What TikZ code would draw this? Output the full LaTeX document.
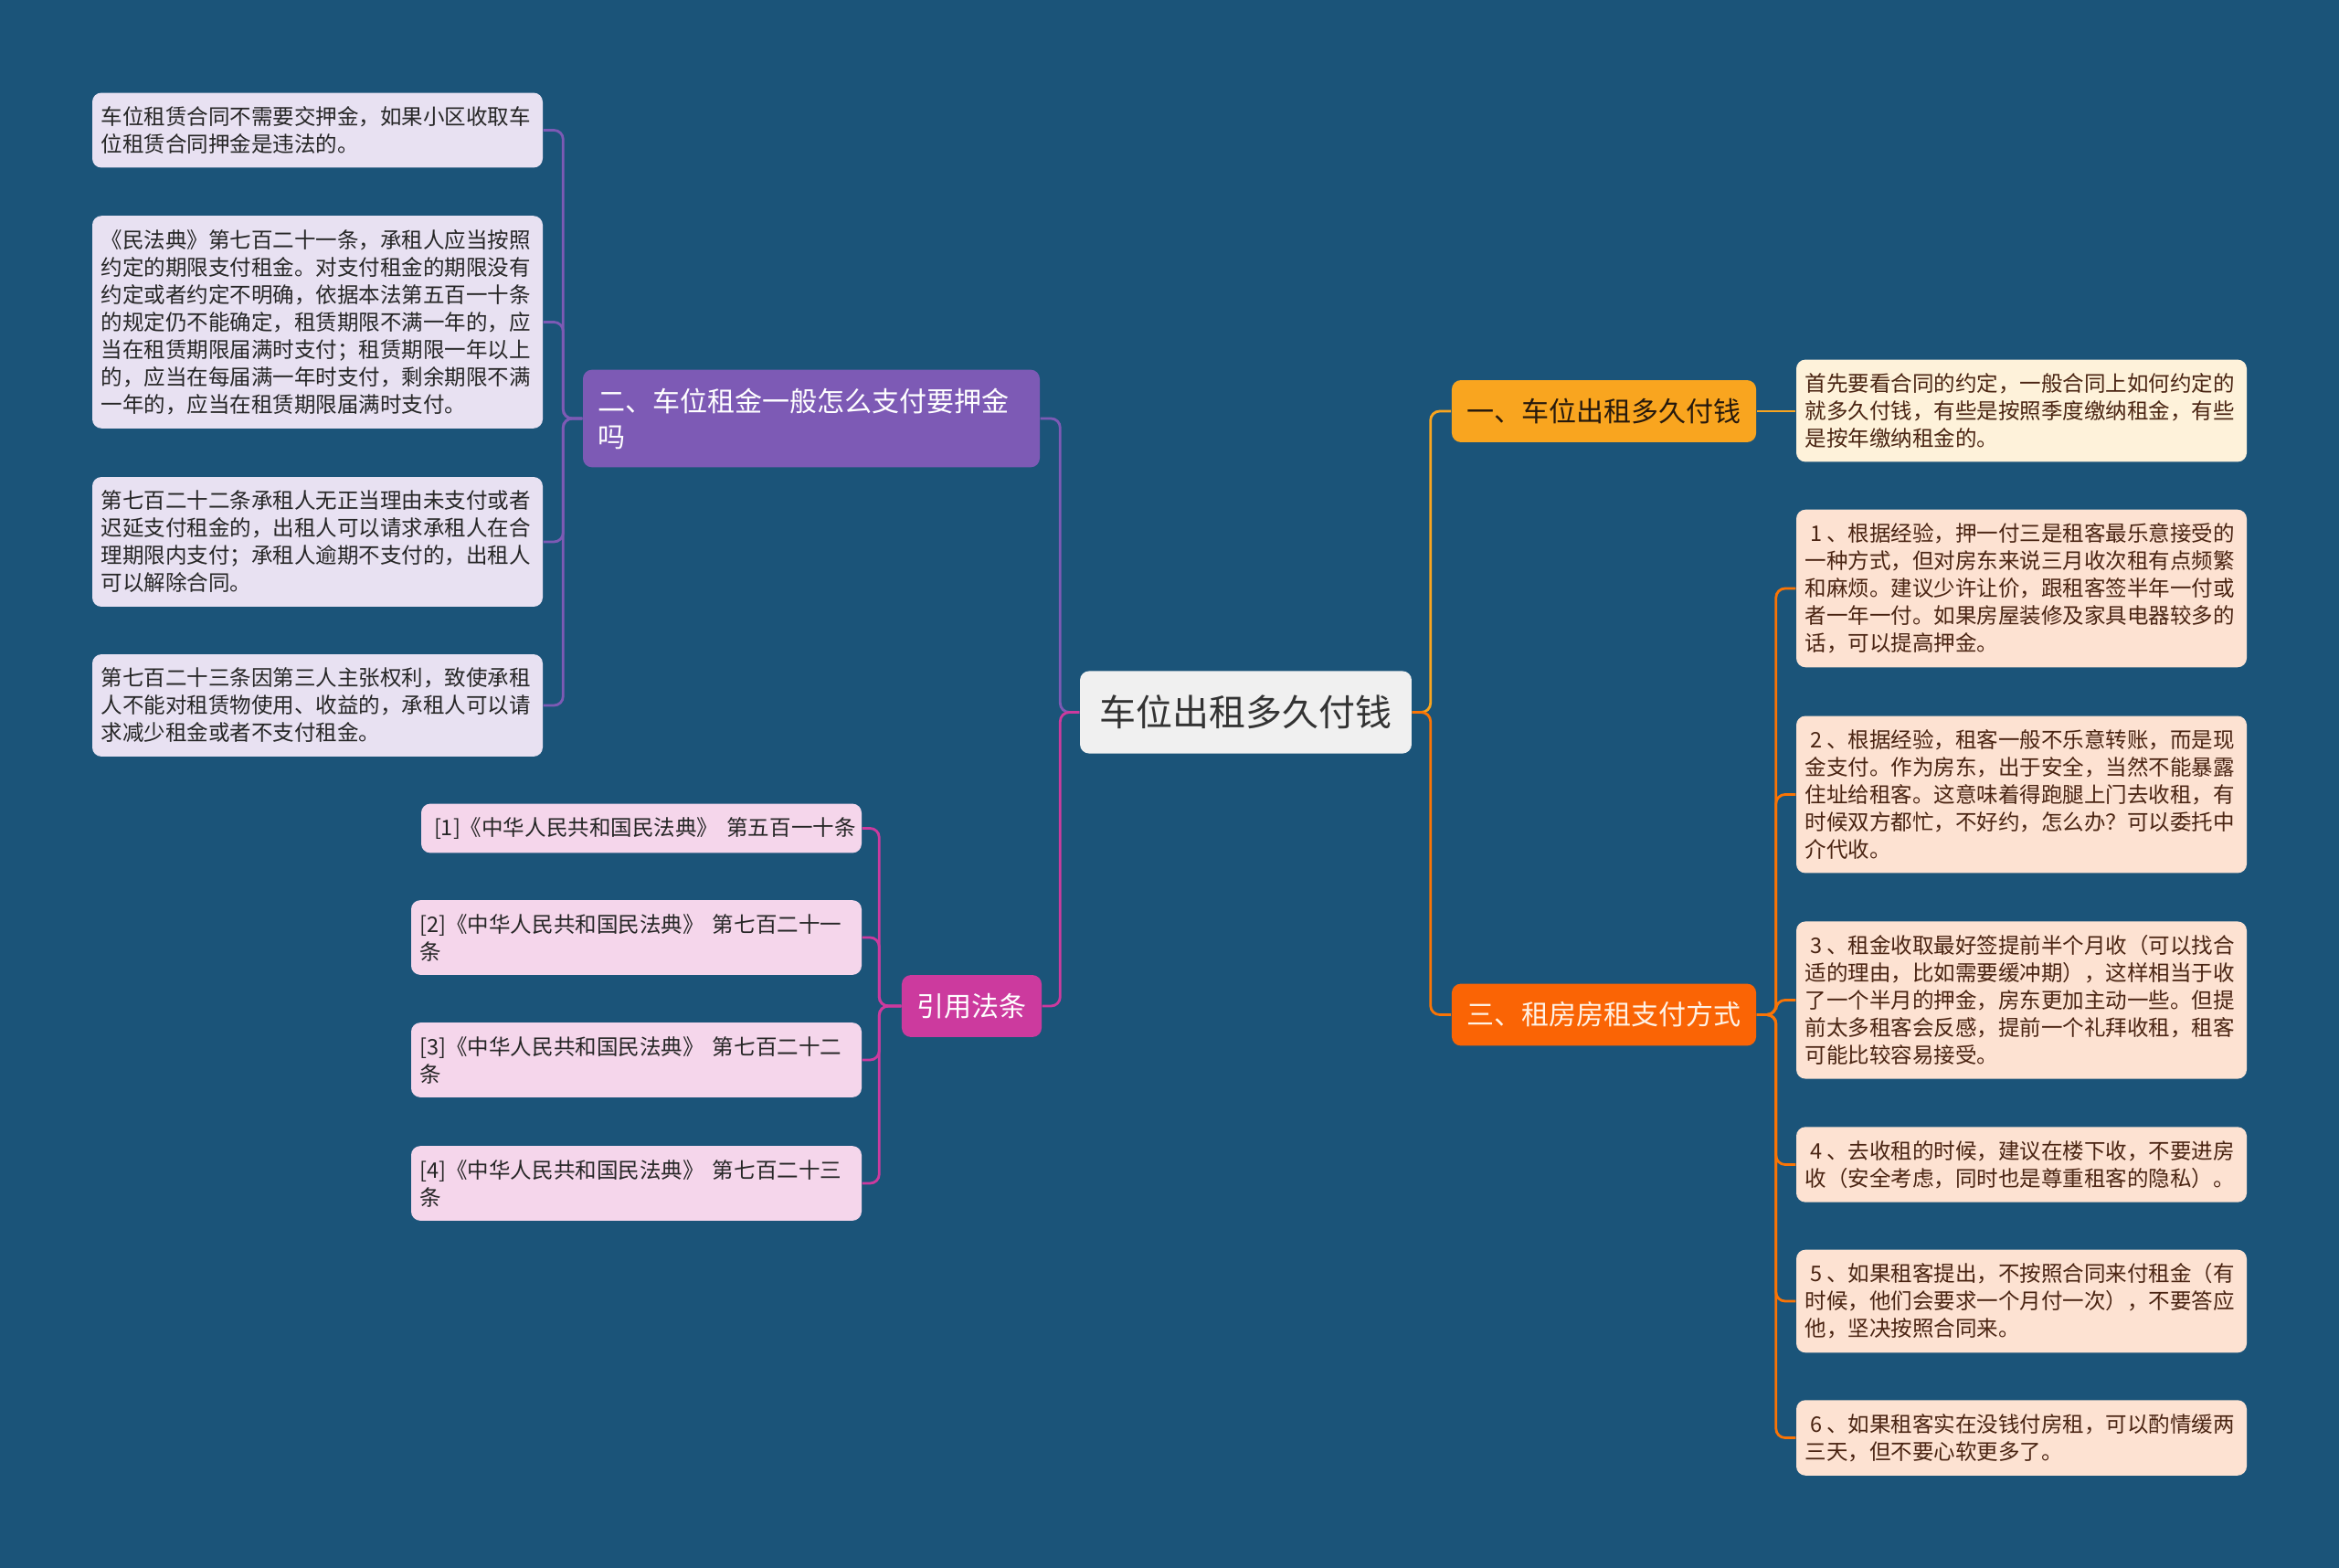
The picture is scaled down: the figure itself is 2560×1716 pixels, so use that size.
\documentclass[tikz,border=0pt]{standalone}
\usepackage{fontspec}
\setmainfont{Noto Sans CJK SC}
\definecolor{bgblue}{HTML}{1B5479}
\definecolor{rootfill}{HTML}{F0F0F0}
\definecolor{yellowfill}{HTML}{F9A51F}
\definecolor{yellowleaf}{HTML}{FEF2DA}
\definecolor{orangefill}{HTML}{FA6405}
\definecolor{orangeleaf}{HTML}{FDE2D2}
\definecolor{purplefill}{HTML}{7D5AB5}
\definecolor{purpleleaf}{HTML}{E8E1F2}
\definecolor{pinkfill}{HTML}{CC3A9E}
\definecolor{pinkleaf}{HTML}{F5D6EB}
\definecolor{browntext}{HTML}{4A2412}
\newcommand\lnum[1]{\hspace*{.25em}#1\hspace*{.2em}}
\newcommand\gap{\nobreak\hspace{.4em}\nobreak}
\tikzset{
  box/.style={rounded corners=1mm, align=left, anchor=center},
  leaf/.style={box, text width=47.4mm, inner xsep=0.95mm, inner ysep=1.5mm,
    font=\fontsize{6.69pt}{8.54pt}\selectfont},
  topic/.style={box, inner xsep=1.65mm, inner ysep=2mm,
    font=\fontsize{8.54pt}{11.1pt}\selectfont},
  link/.style={line width=0.28mm, rounded corners=1mm},
}
\begin{document}
\begin{tikzpicture}[x=0.1mm, y=-0.1mm]
  \fill[bgblue] (0,0) rectangle (2560,1716);
  \node[box, fill=rootfill, text=black!80, inner xsep=2.15mm, inner ysep=2.65mm,
    font=\fontsize{11.38pt}{14pt}\selectfont] (root) at (1363.5,779.5) {车位出租多久付钱};
  % right side
  \node[topic, fill=yellowfill, text=black!80!brown] (b1) at (1755.5,450) {一、车位出租多久付钱};
  \node[topic, fill=orangefill, text=orange!10] (b3) at (1755.5,1110.5) {三、租房房租支付方式};
  \node[leaf, fill=yellowleaf, text=browntext] (l0) at (2212.5,449.5) {首先要看合同的约定，一般合同上如何约定的\\就多久付钱，有些是按照季度缴纳租金，有些\\是按年缴纳租金的。};
  \node[leaf, fill=orangeleaf, text=browntext] (r1) at (2212.5,644) {\lnum{1}、根据经验，押一付三是租客最乐意接受的\\一种方式，但对房东来说三月收次租有点频繁\\和麻烦。建议少许让价，跟租客签半年一付或\\者一年一付。如果房屋装修及家具电器较多的\\话，可以提高押金。};
  \node[leaf, fill=orangeleaf, text=browntext] (r2) at (2212.5,869.5) {\lnum{2}、根据经验，租客一般不乐意转账，而是现\\金支付。作为房东，出于安全，当然不能暴露\\住址给租客。这意味着得跑腿上门去收租，有\\时候双方都忙，不好约，怎么办？可以委托中\\介代收。};
  \node[leaf, fill=orangeleaf, text=browntext] (r3) at (2212.5,1094.5) {\lnum{3}、租金收取最好签提前半个月收（可以找合\\适的理由，比如需要缓冲期），这样相当于收\\了一个半月的押金，房东更加主动一些。但提\\前太多租客会反感，提前一个礼拜收租，租客\\可能比较容易接受。};
  \node[leaf, fill=orangeleaf, text=browntext] (r4) at (2212.5,1274.5) {\lnum{4}、去收租的时候，建议在楼下收，不要进房\\收（安全考虑，同时也是尊重租客的隐私）。};
  \node[leaf, fill=orangeleaf, text=browntext] (r5) at (2212.5,1424) {\lnum{5}、如果租客提出，不按照合同来付租金（有\\时候，他们会要求一个月付一次），不要答应\\他，坚决按照合同来。};
  \node[leaf, fill=orangeleaf, text=browntext] (r6) at (2212.5,1573.5) {\lnum{6}、如果租客实在没钱付房租，可以酌情缓两\\三天，但不要心软更多了。};
  % left side
  \node[topic, fill=purplefill, text=white, text width=46.8mm, inner xsep=1.6mm] (b2) at (888,458) {二、车位租金一般怎么支付要押金\\吗};
  \node[topic, fill=pinkfill, text=white] (b4) at (1063.5,1101) {引用法条};
  \node[leaf, fill=purpleleaf, text=black!85] (a1) at (347.5,142.5) {车位租赁合同不需要交押金，如果小区收取车\\位租赁合同押金是违法的。};
  \node[leaf, fill=purpleleaf, text=black!85] (a2) at (347.5,352.5) {《民法典》第七百二十一条，承租人应当按照\\约定的期限支付租金。对支付租金的期限没有\\约定或者约定不明确，依据本法第五百一十条\\的规定仍不能确定，租赁期限不满一年的，应\\当在租赁期限届满时支付；租赁期限一年以上\\的，应当在每届满一年时支付，剩余期限不满\\一年的，应当在租赁期限届满时支付。};
  \node[leaf, fill=purpleleaf, text=black!85] (a3) at (347.5,593) {第七百二十二条承租人无正当理由未支付或者\\迟延支付租金的，出租人可以请求承租人在合\\理期限内支付；承租人逾期不支付的，出租人\\可以解除合同。};
  \node[leaf, fill=purpleleaf, text=black!85] (a4) at (347.5,772) {第七百二十三条因第三人主张权利，致使承租\\人不能对租赁物使用、收益的，承租人可以请\\求减少租金或者不支付租金。};
  \node[leaf, fill=pinkleaf, text=black!85, text width=45.4mm, inner xsep=1.4mm] (f1) at (702,906.5) {[1]《中华人民共和国民法典》\gap 第五百一十条};
  \node[leaf, fill=pinkleaf, text=black!85] (f2) at (696.5,1026) {[2]《中华人民共和国民法典》\gap 第七百二十一\\条};
  \node[leaf, fill=pinkleaf, text=black!85] (f3) at (696.5,1160) {[3]《中华人民共和国民法典》\gap 第七百二十二\\条};
  \node[leaf, fill=pinkleaf, text=black!85] (f4) at (696.5,1295) {[4]《中华人民共和国民法典》\gap 第七百二十三\\条};
  % connectors
  \draw[link, yellowfill] (root.east) -- ++(20,0) |- (b1.west);
  \draw[link, orangefill!90!yellow] (root.east) -- ++(20,0) |- (b3.west);
  \draw[link, purplefill] (root.west) -- ++(-21,0) |- (b2.east);
  \draw[link, pinkfill] (root.west) -- ++(-21,0) |- (b4.east);
  \draw[link, yellowfill] (b1.east) -- (b1.east -| l0.west);
  \foreach \i in {1,...,6} {
    \draw[link, orangefill!90!yellow] (b3.east) -- ++(21,0) |- (r\i.west);
  }
  \foreach \i in {1,...,4} {
    \draw[link, purplefill] (b2.west) -- ++(-21,0) |- (a\i.east);
    \draw[link, pinkfill] (b4.west) -- ++(-24,0) |- (f\i.east);
  }
\end{tikzpicture}
\end{document}
